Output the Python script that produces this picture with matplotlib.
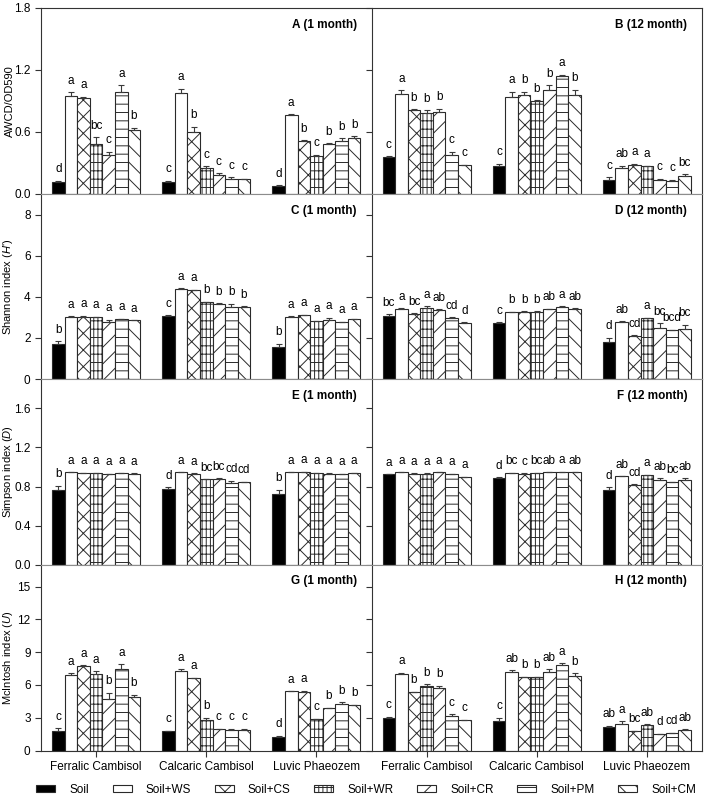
import numpy as np
import matplotlib
matplotlib.use('Agg')
import matplotlib.pyplot as plt
from matplotlib.patches import Patch

plt.rcParams['font.family'] = ['Liberation Sans', 'DejaVu Sans']
plt.rcParams['mathtext.fontset'] = 'custom'
plt.rcParams['mathtext.rm'] = 'Liberation Sans'
plt.rcParams['mathtext.it'] = 'Liberation Sans:italic'
plt.rcParams['hatch.linewidth'] = 0.7

soils = ['Ferralic Cambisol', 'Calcaric Cambisol', 'Luvic Phaeozem']
treatments = ['Soil', 'Soil+WS', 'Soil+CS', 'Soil+WR', 'Soil+CR', 'Soil+PM', 'Soil+CM']

# AWCD/OD590, rows = soils, columns = treatments
awcd_1m = [[0.12, 0.95, 0.93, 0.48, 0.38, 0.99, 0.62],
           [0.12, 0.98, 0.60, 0.25, 0.18, 0.15, 0.15],
           [0.08, 0.76, 0.51, 0.37, 0.48, 0.51, 0.54]]
awcd_1m_err = [[0.01, 0.035, 0.01, 0.07, 0.03, 0.06, 0.02],
               [0.01, 0.04, 0.05, 0.02, 0.02, 0.01, 0.0],
               [0.005, 0.01, 0.01, 0.01, 0.01, 0.03, 0.02]]
awcd_1m_sig = [['d', 'a', 'a', 'bc', 'c', 'a', 'b'],
               ['c', 'a', 'b', 'c', 'c', 'c', 'c'],
               ['d', 'a', 'b', 'c', 'b', 'b', 'b']]
awcd_12m = [[0.36, 0.97, 0.81, 0.78, 0.79, 0.38, 0.28],
            [0.27, 0.94, 0.96, 0.90, 1.01, 1.14, 0.96],
            [0.14, 0.25, 0.28, 0.27, 0.14, 0.13, 0.17]]
awcd_12m_err = [[0.005, 0.035, 0.01, 0.03, 0.035, 0.03, 0.005],
                [0.02, 0.05, 0.03, 0.005, 0.04, 0.015, 0.05],
                [0.02, 0.025, 0.015, 0.005, 0.005, 0.005, 0.02]]
awcd_12m_sig = [['c', 'a', 'b', 'b', 'b', 'c', 'c'],
                ['c', 'a', 'b', 'b', 'b', 'a', 'b'],
                ['c', 'ab', 'a', 'a', 'c', 'c', 'bc']]

# Shannon index
shannon_1m = [[1.68, 3.03, 3.03, 3.00, 2.79, 2.90, 2.85],
              [3.05, 4.40, 4.32, 3.74, 3.66, 3.50, 3.50],
              [1.56, 3.03, 3.10, 2.80, 2.87, 2.77, 2.92]]
shannon_1m_err = [[0.16, 0.02, 0.04, 0.03, 0.10, 0.02, 0.01],
                  [0.06, 0.02, 0.02, 0.03, 0.03, 0.16, 0.03],
                  [0.16, 0.02, 0.02, 0.02, 0.10, 0.01, 0.02]]
shannon_1m_sig = [['b', 'a', 'a', 'a', 'a', 'a', 'a'],
                  ['c', 'a', 'a', 'b', 'b', 'b', 'b'],
                  ['b', 'a', 'a', 'a', 'a', 'a', 'a']]
shannon_12m = [[3.05, 3.42, 3.18, 3.44, 3.37, 2.98, 2.73],
               [2.73, 3.24, 3.27, 3.27, 3.39, 3.50, 3.42],
               [1.80, 2.79, 2.10, 2.97, 2.50, 2.37, 2.44]]
shannon_12m_err = [[0.10, 0.02, 0.02, 0.10, 0.02, 0.02, 0.03],
                   [0.03, 0.02, 0.02, 0.02, 0.02, 0.03, 0.02],
                   [0.20, 0.01, 0.02, 0.02, 0.22, 0.02, 0.20]]
shannon_12m_sig = [['bc', 'a', 'bc', 'a', 'ab', 'cd', 'd'],
                   ['c', 'b', 'b', 'b', 'ab', 'a', 'ab'],
                   ['d', 'ab', 'cd', 'a', 'bc', 'bcd', 'bc']]

# Simpson index
simpson_1m = [[0.766, 0.944, 0.940, 0.940, 0.927, 0.937, 0.933],
              [0.776, 0.944, 0.933, 0.872, 0.879, 0.838, 0.844],
              [0.725, 0.944, 0.950, 0.937, 0.933, 0.926, 0.937]]
simpson_1m_err = [[0.04, 0.002, 0.002, 0.002, 0.003, 0.003, 0.002],
                  [0.015, 0.002, 0.002, 0.003, 0.003, 0.02, 0.005],
                  [0.04, 0.002, 0.003, 0.002, 0.005, 0.002, 0.002]]
simpson_1m_sig = [['b', 'a', 'a', 'a', 'a', 'a', 'a'],
                  ['d', 'a', 'a', 'bc', 'bc', 'cd', 'cd'],
                  ['b', 'a', 'a', 'a', 'a', 'a', 'a']]
simpson_12m = [[0.923, 0.944, 0.933, 0.933, 0.944, 0.926, 0.896],
               [0.892, 0.937, 0.933, 0.937, 0.944, 0.950, 0.944],
               [0.766, 0.903, 0.820, 0.916, 0.865, 0.844, 0.865]]
simpson_12m_err = [[0.003, 0.002, 0.002, 0.002, 0.002, 0.003, 0.002],
                   [0.002, 0.002, 0.002, 0.002, 0.002, 0.002, 0.002],
                   [0.025, 0.002, 0.005, 0.005, 0.02, 0.003, 0.02]]
simpson_12m_sig = [['a', 'a', 'a', 'a', 'a', 'a', 'a'],
                   ['d', 'bc', 'c', 'bc', 'ab', 'a', 'ab'],
                   ['d', 'ab', 'cd', 'a', 'ab', 'bc', 'ab']]

# McIntosh index
mcintosh_1m = [[1.80, 6.87, 7.76, 6.96, 4.67, 7.48, 4.89],
               [1.74, 7.24, 6.63, 2.81, 1.95, 1.83, 1.83],
               [1.28, 5.40, 5.37, 2.87, 3.85, 4.27, 4.15]]
mcintosh_1m_err = [[0.25, 0.2, 0.05, 0.3, 0.6, 0.4, 0.2],
                   [0.05, 0.2, 0.03, 0.2, 0.05, 0.15, 0.15],
                   [0.05, 0.02, 0.1, 0.05, 0.05, 0.15, 0.03]]
mcintosh_1m_sig = [['c', 'a', 'a', 'a', 'b', 'a', 'b'],
                   ['c', 'a', 'a', 'b', 'c', 'c', 'c'],
                   ['d', 'a', 'a', 'c', 'b', 'b', 'b']]
mcintosh_12m = [[2.99, 6.99, 5.34, 5.86, 5.71, 3.15, 2.75],
                [2.72, 7.14, 6.69, 6.72, 7.18, 7.82, 6.81],
                [2.11, 2.38, 1.77, 2.35, 1.53, 1.62, 1.92]]
mcintosh_12m_err = [[0.1, 0.1, 0.02, 0.2, 0.2, 0.15, 0.05],
                    [0.25, 0.2, 0.05, 0.05, 0.25, 0.15, 0.25],
                    [0.15, 0.3, 0.02, 0.05, 0.02, 0.02, 0.02]]
mcintosh_12m_sig = [['c', 'a', 'b', 'b', 'b', 'c', 'c'],
                    ['c', 'ab', 'b', 'b', 'ab', 'a', 'b'],
                    ['ab', 'a', 'bc', 'ab', 'd', 'cd', 'ab']]

faces = ['black'] + ['white'] * 6
hatches = ['', '', 'xx', '||||--', '//', '--', '\\\\']
edge = '#2a2a2a'
grey = '#8c8c8c'
fs = 8.5


def drawPanel(ax, vals, errs, sigs, title):
    nBars = len(treatments)
    width = 0.8 / nBars
    for j in range(nBars):
        x = np.arange(len(soils)) - 0.4 + width * (j + 0.5)
        v = np.array([row[j] for row in vals])
        e = np.array([row[j] for row in errs])
        ax.bar(x, v, width, color=faces[j], edgecolor=edge, hatch=hatches[j],
               linewidth=0.8, zorder=2)
        ax.errorbar(x, v, yerr=[np.zeros_like(e), e], fmt='none', ecolor='#3a3a3a',
                    elinewidth=0.8, capsize=2.5, capthick=0.8, zorder=3)
        for xi, vi, ei, s in zip(x, v, e, [row[j] for row in sigs]):
            ax.annotate(s, (xi, vi + ei), xytext=(0, 4), textcoords='offset points',
                        ha='center', va='bottom', fontsize=fs)
    ax.text(0.955, 0.91, title, transform=ax.transAxes, ha='right', va='center',
            fontsize=fs, fontweight='bold')
    ax.set_xlim(-0.5, 2.5)
    ax.set_xticks(range(len(soils)))
    ax.tick_params(axis='both', direction='out', length=4, width=0.8,
                   labelsize=fs, color='#333333')


panels = [
    (awcd_1m, awcd_1m_err, awcd_1m_sig, awcd_12m, awcd_12m_err, awcd_12m_sig,
     'A (1 month)', 'B (12 month)', 'AWCD/OD590', (0, 1.8), [0, 0.6, 1.2, 1.8], '{:.1f}'),
    (shannon_1m, shannon_1m_err, shannon_1m_sig, shannon_12m, shannon_12m_err, shannon_12m_sig,
     'C (1 month)', 'D (12 month)', r"Shannon index ($H$')", (0, 9), [0, 2, 4, 6, 8], '{:.0f}'),
    (simpson_1m, simpson_1m_err, simpson_1m_sig, simpson_12m, simpson_12m_err, simpson_12m_sig,
     'E (1 month)', 'F (12 month)', r'Simpson index ($D$)', (0, 1.9), [0, 0.4, 0.8, 1.2, 1.6], '{:.1f}'),
    (mcintosh_1m, mcintosh_1m_err, mcintosh_1m_sig, mcintosh_12m, mcintosh_12m_err, mcintosh_12m_sig,
     'G (1 month)', 'H (12 month)', r'McIntosh index ($U$)', (0, 17), [0, 3, 6, 9, 12, 15], '{:.0f}'),
]

fig = plt.figure(figsize=(7.07, 8.0), dpi=100)
W, H = 707.0, 800.0
rowEdges = [8, 194, 379, 564.7, 750.5]
colEdges = [41, 371.5, 702]

for r, p in enumerate(panels):
    v1, e1, s1, v2, e2, s2, t1, t2, ylab, ylim, yticks, fmt = p
    top, bot = rowEdges[r], rowEdges[r + 1]
    for c in range(2):
        left, right = colEdges[c], colEdges[c + 1]
        ax = fig.add_axes([left / W, 1 - bot / H, (right - left) / W, (bot - top) / H])
        if c == 0:
            drawPanel(ax, v1, e1, s1, t1)
        else:
            drawPanel(ax, v2, e2, s2, t2)
        ax.set_ylim(*ylim)
        ax.set_yticks(yticks)
        if c == 0:
            ax.set_yticklabels([fmt.format(t) for t in yticks])
            ax.set_ylabel(ylab, fontsize=8)
            ax.yaxis.set_label_coords(-0.078, 0.5)
            ax.spines['right'].set_visible(False)
        else:
            ax.set_yticklabels([])
        if r == len(panels) - 1:
            ax.set_xticklabels(soils, fontsize=fs)
        else:
            ax.set_xticklabels([])
        for sp in ax.spines.values():
            sp.set_color('#333333')
            sp.set_linewidth(0.8)
        if r > 0:
            ax.spines['top'].set_color(grey)
        if r < len(panels) - 1:
            ax.spines['bottom'].set_color(grey)

handles = [Patch(facecolor=faces[j], edgecolor=edge, hatch=hatches[j], linewidth=0.8)
           for j in range(len(treatments))]
fig.legend(handles, treatments, loc='center', bbox_to_anchor=(0.518, 0.013), ncol=7,
           frameon=False, fontsize=fs, handlelength=1.6, handleheight=0.55,
           handletextpad=1.2, columnspacing=2.0)

fig.savefig('out.png', dpi=100)
